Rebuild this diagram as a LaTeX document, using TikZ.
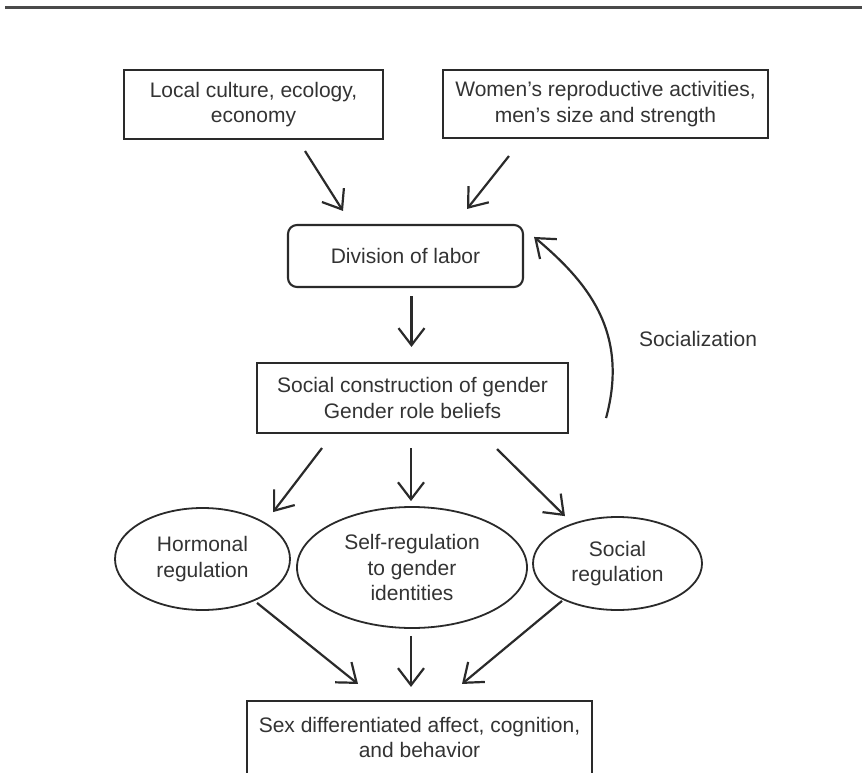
\documentclass[tikz,border=0pt]{standalone}
\usepackage{fontspec}
\setmainfont{Liberation Sans}
\usetikzlibrary{shapes.geometric,arrows.meta}
\definecolor{inkgray}{HTML}{333333}
\definecolor{linegray}{HTML}{2A2A2A}
\newcommand{\diagfont}{\fontsize{21}{25.5}\selectfont}
\tikzset{>={Straight Barb[length=17pt,width=26pt]}}
\tikzset{
  flowbox/.style={draw=linegray, line width=2.1pt, rectangle, align=center,
    inner sep=0pt, text=inkgray, font=\diagfont},
  roundbox/.style={flowbox, rounded corners=9pt},
  oval/.style={draw=linegray, line width=1.8pt, ellipse, align=center,
    inner sep=0pt, text=inkgray, font=\diagfont},
  flowarrow/.style={->, draw=linegray, line width=2.2pt}
}

\begin{document}
\begin{tikzpicture}[x=1pt, y=-1pt]
  \useasboundingbox (0,0) rectangle (862,773);
  \draw[line width=3pt, linegray!85] (5,8) -- (862,8);

  % sources
  \node[flowbox, minimum width=259pt, minimum height=69pt] (culture) at (253.5,104.5)
    {Local culture, ecology,\\ economy};
  \node[flowbox, minimum width=325pt, minimum height=68pt] (bodies) at (605.5,104)
    {Women’s reproductive activities,\\ men’s size and strength};
  \node[roundbox, minimum width=235pt, minimum height=62pt] (labor) at (405.5,256)
    {Division of labor};
  \node[flowbox, minimum width=311pt, minimum height=70pt] (beliefs) at (412.5,398)
    {Social construction of gender\\ Gender role beliefs};

  % regulation paths
  \node[oval, minimum width=175pt, minimum height=102pt] (hormonal) at (202.5,559)
    {Hormonal\\ regulation};
  \node[oval, minimum width=230pt, minimum height=121pt] (selfreg) at (412,567.5)
    {Self-regulation\\ to gender\\ identities};
  \node[oval, minimum width=169pt, minimum height=93pt] (socreg) at (617.5,563.5)
    {Social\\ regulation};
  \node[flowbox, minimum width=345pt, minimum height=73pt] (outcome) at (419.5,737.5)
    {Sex differentiated affect, cognition,\\ and behavior};

  \node[text=inkgray, font=\diagfont] (soclabel) at (698,339) {Socialization};

  \draw[flowarrow] ([xshift=51.5pt,yshift=-11pt]culture.south) -- ([xshift=-62.5pt,yshift=13pt]labor.north);
  \draw[flowarrow] ([xshift=67pt,yshift=-17pt]bodies.south west) -- ([xshift=61.5pt,yshift=15pt]labor.north);
  \draw[flowarrow] ([xshift=6pt,yshift=-8pt]labor.south) -- ([xshift=-1pt,yshift=15pt]beliefs.north);
  \draw[flowarrow] ([xshift=37pt,yshift=16pt]beliefs.south east)
    .. controls (630,330) and (585,280) .. ([xshift=10pt,yshift=-13pt]labor.north east);

  \draw[flowarrow] ([xshift=-90.5pt,yshift=-14pt]beliefs.south) -- ([xshift=70.5pt,yshift=-5pt]hormonal.north);
  \draw[flowarrow] ([xshift=-1.5pt,yshift=-14pt]beliefs.south) -- ([xshift=-1pt,yshift=5pt]selfreg.north);
  \draw[flowarrow] ([xshift=84.5pt,yshift=-15pt]beliefs.south) -- ([xshift=-52.5pt]socreg.north);

  \draw[flowarrow] ([xshift=54.5pt,yshift=8pt]hormonal.south) -- ([xshift=-61.5pt,yshift=16pt]outcome.north);
  \draw[flowarrow] ([xshift=-1pt,yshift=-7pt]selfreg.south) -- ([xshift=-8.5pt,yshift=13pt]outcome.north);
  \draw[flowarrow] ([xshift=-55.5pt,yshift=10pt]socreg.south) -- ([xshift=42.5pt,yshift=16pt]outcome.north);
\end{tikzpicture}
\end{document}
